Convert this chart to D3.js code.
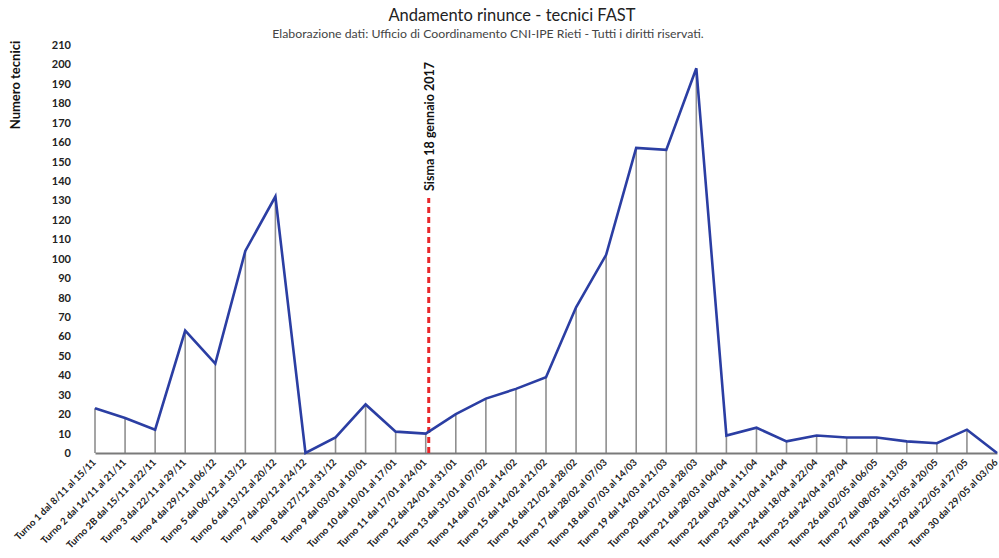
<!DOCTYPE html>
<html>
<head>
<meta charset="utf-8">
<script src="https://cdn.jsdelivr.net/npm/d3@7"></script>
<style>
  html, body { margin: 0; padding: 0; background: #fff; }
  svg { display: block; font-family: Lato, "Open Sans", sans-serif; }
</style>
</head>
<body>
<svg id="chart" width="999" height="558"></svg>
<script>
// Turni di rilevamento FAST e numero di rinunce per turno
const categories = [
  "Turno 1 dal 8/11 al 15/11", "Turno 2 dal 14/11 al 21/11", "Turno 2B dal 15/11 al 22/11",
  "Turno 3 dal 22/11 al 29/11", "Turno 4 dal 29/11 al 06/12", "Turno 5 dal 06/12 al 13/12",
  "Turno 6 dal 13/12 al 20/12", "Turno 7 dal 20/12 al 24/12", "Turno 8 dal 27/12 al 31/12",
  "Turno 9 dal 03/01 al 10/01", "Turno 10 dal 10/01 al 17/01", "Turno 11 dal 17/01 al 24/01",
  "Turno 12 dal 24/01 al 31/01", "Turno 13 dal 31/01 al 07/02", "Turno 14 dal 07/02 al 14/02",
  "Turno 15 dal 14/02 al 21/02", "Turno 16 dal 21/02 al 28/02", "Turno 17 dal 28/02 al 07/03",
  "Turno 18 dal 07/03 al 14/03", "Turno 19 dal 14/03 al 21/03", "Turno 20 dal 21/03 al 28/03",
  "Turno 21 dal 28/03 al 04/04", "Turno 22 dal 04/04 al 11/04", "Turno 23 dal 11/04 al 14/04",
  "Turno 24 dal 18/04 al 22/04", "Turno 25 dal 24/04 al 29/04", "Turno 26 dal 02/05 al 06/05",
  "Turno 27 dal 08/05 al 13/05", "Turno 28 dal 15/05 al 20/05", "Turno 29 dal 22/05 al 27/05",
  "Turno 30 dal 29/05 al 03/06"
];
const rinunce = [23, 18, 12, 63, 46, 104, 132, 0, 8, 25, 11, 10, 20, 28, 33, 39, 75, 102,
                 157, 156, 198, 9, 13, 6, 9, 8, 8, 6, 5, 12, 0];
const yTicks = d3.range(0, 211, 10);
const eventCategory = "Turno 11 dal 17/01 al 24/01";
const eventLabel = "Sisma 18 gennaio 2017";
const titleText = "Andamento rinunce - tecnici FAST";
const subtitleText = "Elaborazione dati: Ufficio di Coordinamento  CNI-IPE Rieti - Tutti i diritti riservati.";
const yTitle = "Numero tecnici";

const data = categories.map((c, i) => ({ cat: c, value: rinunce[i] }));

const svg = d3.select("#chart");
const m = { left: 95, right: 2, top: 45, bottom: 105 };
const W = 999, H = 558;

const x = d3.scalePoint().domain(categories).range([m.left, W - m.right]);
const y = d3.scaleLinear().domain([0, 210]).range([H - m.bottom, m.top]);

// Titles
svg.append("text").attr("x", 512).attr("y", 21).attr("text-anchor", "middle")
  .attr("font-size", 16.5).attr("fill", "#222").text(titleText);
svg.append("text").attr("x", 488).attr("y", 38).attr("text-anchor", "middle")
  .attr("font-size", 12.3).attr("fill", "#444").text(subtitleText);

// Y axis title
svg.append("text")
  .attr("transform", `translate(20,85) rotate(-90)`)
  .attr("text-anchor", "middle").attr("font-size", 13).attr("font-weight", "bold")
  .attr("fill", "#111").text(yTitle);

// Y tick labels (no axis line)
const yAxis = d3.axisLeft(y).tickValues(yTicks).tickSize(0).tickPadding(0);
const gy = svg.append("g").attr("transform", "translate(71,0)").call(yAxis);
gy.select(".domain").remove();
gy.selectAll("text").attr("font-size", 11).attr("font-weight", "bold")
  .attr("fill", "#222").attr("font-family", "Lato, 'Open Sans', sans-serif");

// Drop lines
svg.append("g").selectAll("line").data(data).join("line")
  .attr("x1", d => x(d.cat)).attr("x2", d => x(d.cat))
  .attr("y1", d => y(d.value)).attr("y2", y(0))
  .attr("stroke", "#8f8f8f").attr("stroke-width", 1.6);

// X axis
const xAxis = d3.axisBottom(x).tickSize(0).tickPadding(0);
const gx = svg.append("g").attr("transform", `translate(0,${y(0)})`).call(xAxis);
gx.select(".domain").attr("stroke", "#7a7a7a").attr("stroke-width", 2.2);
gx.selectAll("text")
  .attr("font-size", 9.6).attr("font-weight", "bold").attr("fill", "#222")
  .attr("font-family", "Lato, 'Open Sans', sans-serif")
  .attr("text-anchor", "end").attr("dy", null).attr("y", 0)
  .attr("transform", "translate(1,10) rotate(-45)");

// Event marker
const ex = x(eventCategory) + 3;
svg.append("line").attr("x1", ex).attr("x2", ex).attr("y1", y(0)).attr("y2", 198)
  .attr("stroke", "#e8262a").attr("stroke-width", 3).attr("stroke-dasharray", "6,4");
svg.append("text")
  .attr("transform", `translate(${ex + 5},191) rotate(-90)`)
  .attr("font-size", 12.5).attr("font-weight", "bold").attr("fill", "#111").text(eventLabel);

// Series line
const line = d3.line().x(d => x(d.cat)).y(d => y(d.value));
svg.append("path").datum(data).attr("d", line)
  .attr("fill", "none").attr("stroke", "#2b3ea3").attr("stroke-width", 2.6)
  .attr("stroke-linejoin", "miter");
</script>
</body>
</html>
